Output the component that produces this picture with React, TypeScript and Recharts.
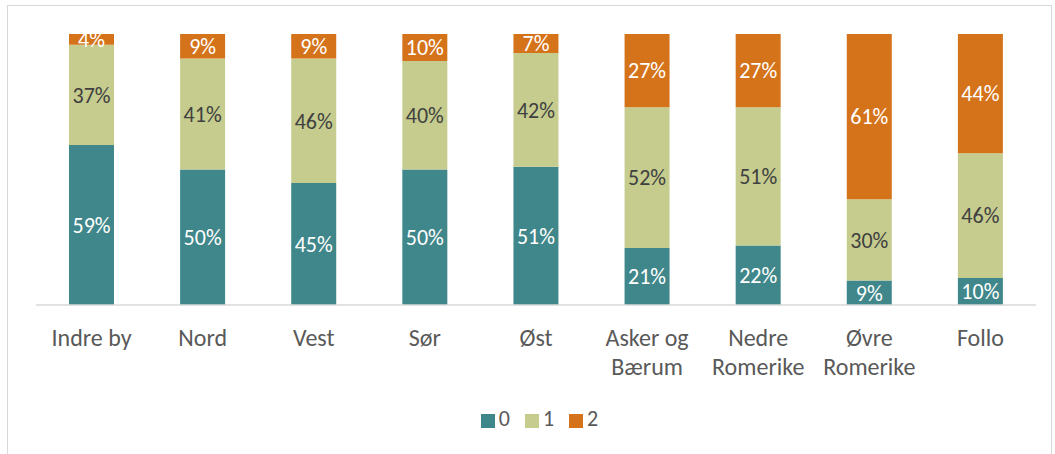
import { BarChart, Bar, XAxis, YAxis, Legend, LabelList } from 'recharts'

const categories = ['Indre by', 'Nord', 'Vest', 'Sør', 'Øst', 'Asker og Bærum', 'Nedre Romerike', 'Øvre Romerike', 'Follo']
const share0 = [59, 50, 45, 50, 51, 21, 22, 9, 10]
const share1 = [37, 41, 46, 40, 42, 52, 51, 30, 46]
const share2 = [4, 9, 9, 10, 7, 27, 27, 61, 44]

const data = categories.map((name, i) => ({ name, s0: share0[i], s1: share1[i], s2: share2[i] }))

const font = 'Carlito, Calibri, "Open Sans", "Noto Sans", sans-serif'

const CategoryTick = (props: any) => {
  const { x, y, payload } = props
  const label: string = payload.value
  const lines = label.includes(' ') && label !== 'Indre by' ? label.replace(/ (\S+)$/, '\n$1').split('\n') : [label]
  return (
    <text x={x} y={y} textAnchor="middle" fill="#595959" fontSize={24} fontFamily={font}>
      {lines.map((l, i) => (
        <tspan key={i} x={x} dy={i === 0 ? 33 : 29}>{l}</tspan>
      ))}
    </text>
  )
}

const pct = (v: any) => `${v}%`

export default function App() {
  return (
    <div style={{ position: 'absolute', left: 0, top: 0, width: 1055, height: 454, background: '#fff' }}>
      <div style={{ position: 'absolute', left: 7, top: 5, width: 1045, height: 452, border: '1px solid #d9d9d9', boxSizing: 'border-box' }} />
      <div style={{ position: 'absolute', left: 0, top: 0 }}>
        <BarChart width={1055} height={454} data={data} margin={{ top: 34, right: 19, bottom: 0, left: 36 }} barCategoryGap={33}>
          <XAxis dataKey="name" height={122} tick={<CategoryTick />} tickLine={false} axisLine={{ stroke: '#d9d9d9', strokeWidth: 1.5 }} interval={0} />
          <YAxis hide domain={[0, 100]} />
          <Legend
            verticalAlign="bottom"
            iconType="square"
            iconSize={14}
            wrapperStyle={{ top: 405, paddingLeft: 22, boxSizing: 'border-box', fontFamily: font, fontSize: 22 }}
            formatter={(v: string) => <span style={{ color: '#595959', marginRight: 5 }}>{v}</span>}
          />
          <Bar dataKey="s0" name="0" stackId="a" fill="#3F878A" isAnimationActive={false}>
            <LabelList dataKey="s0" position="center" formatter={pct} fill="#ffffff" fontSize={22} fontFamily={font} />
          </Bar>
          <Bar dataKey="s1" name="1" stackId="a" fill="#C5CC8E" isAnimationActive={false}>
            <LabelList dataKey="s1" position="center" formatter={pct} fill="#404040" fontSize={22} fontFamily={font} />
          </Bar>
          <Bar dataKey="s2" name="2" stackId="a" fill="#D5731B" isAnimationActive={false}>
            <LabelList dataKey="s2" position="center" formatter={pct} fill="#ffffff" fontSize={22} fontFamily={font} />
          </Bar>
        </BarChart>
      </div>
    </div>
  )
}
